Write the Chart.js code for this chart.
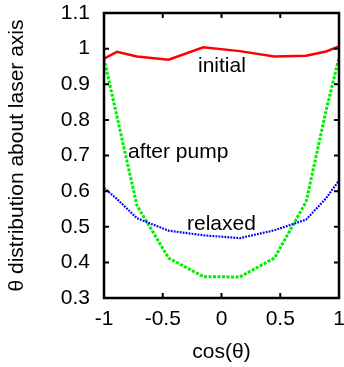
<!DOCTYPE html>
<html>
<head>
<meta charset="utf-8">
<script src="https://cdn.jsdelivr.net/npm/chart.js@4"></script>
<style>
  body { margin: 0; background: #fff; }
  canvas { display: block; }
</style>
</head>
<body>
<canvas id="chart" width="344" height="367"></canvas>
<script>
// Data
const cosTheta = [-1, -0.89, -0.72, -0.45, -0.155, 0.155, 0.45, 0.72, 0.89, 1];
const initial = [0.972, 0.991, 0.978, 0.969, 1.004, 0.993, 0.978, 0.980, 0.992, 1.006];
const afterPump = [0.972, 0.81, 0.56, 0.412, 0.360, 0.359, 0.412, 0.57, 0.826, 0.975];
const relaxed = [0.609, 0.578, 0.524, 0.489, 0.476, 0.468, 0.49, 0.52, 0.58, 0.63];

const xTicks = [-1, -0.5, 0, 0.5, 1];
const xTickLabels = ['-1', '-0.5', '0', '0.5', '1'];
const yTicks = [0.3, 0.4, 0.5, 0.6, 0.7, 0.8, 0.9, 1, 1.1];
const yTickLabels = ['0.3', '0.4', '0.5', '0.6', '0.7', '0.8', '0.9', '1', '1.1'];

// curve labels, placed in data coordinates (left edge, baseline)
const curveLabels = [
    { text: 'initial', x: -0.2, y: 0.933 },
    { text: 'after pump', x: -0.796, y: 0.693 },
    { text: 'relaxed', x: -0.294, y: 0.49 }
];

const FONT = "'Liberation Sans', Arial, Helvetica, sans-serif";
Chart.defaults.font.family = FONT;
Chart.defaults.font.size = 21;
Chart.defaults.color = '#000';

const pts = (ys) => cosTheta.map((x, i) => ({ x: x, y: ys[i] }));

// no extra room for half labels at the axis ends
const noPad = (s) => { s.paddingLeft = 0; s.paddingRight = 0; s.paddingTop = 0; s.paddingBottom = 0; };

// frame, inside tick marks and curve labels
const framePlugin = {
    id: 'frame',
    afterDatasetsDraw(chart) {
        const { ctx, chartArea: a, scales: { x, y } } = chart;
        ctx.save();
        ctx.strokeStyle = '#000';
        ctx.lineWidth = 2;
        ctx.beginPath();
        xTicks.forEach(v => {
            const px = x.getPixelForValue(v);
            ctx.moveTo(px, a.bottom); ctx.lineTo(px, a.bottom - 5);
            ctx.moveTo(px, a.top); ctx.lineTo(px, a.top + 5);
        });
        yTicks.forEach(v => {
            const py = y.getPixelForValue(v);
            ctx.moveTo(a.left, py); ctx.lineTo(a.left + 5, py);
            ctx.moveTo(a.right, py); ctx.lineTo(a.right - 5, py);
        });
        ctx.stroke();
        ctx.lineWidth = 2.5;
        ctx.strokeRect(a.left, a.top, a.right - a.left, a.bottom - a.top);

        ctx.fillStyle = '#000';
        ctx.font = '21px ' + FONT;
        ctx.textAlign = 'left';
        ctx.textBaseline = 'alphabetic';
        curveLabels.forEach(l => {
            ctx.fillText(l.text, x.getPixelForValue(l.x), y.getPixelForValue(l.y));
        });
        ctx.restore();
    }
};

new Chart(document.getElementById('chart'), {
    type: 'scatter',
    data: {
        datasets: [
            { label: 'initial', data: pts(initial), showLine: true, borderColor: '#ff0000', borderWidth: 2.5, pointRadius: 0 },
            { label: 'relaxed', data: pts(relaxed), showLine: true, borderColor: '#0000ff', borderWidth: 2.2, borderDash: [1.8, 1.2], pointRadius: 0 },
            { label: 'after pump', data: pts(afterPump), showLine: true, borderColor: '#00ee00', borderWidth: 3, borderDash: [3, 1.5], pointRadius: 0 }
        ]
    },
    options: {
        responsive: false,
        animation: false,
        layout: { padding: { top: 13, right: 5, left: 0, bottom: 0 } },
        plugins: { legend: { display: false }, tooltip: { enabled: false } },
        scales: {
            x: {
                type: 'linear', min: -1, max: 1,
                afterBuildTicks: s => { s.ticks = xTicks.map(v => ({ value: v })); },
                afterFit: s => { s.height = 69; noPad(s); },
                ticks: { padding: 9, maxRotation: 0, callback: (v, i) => xTickLabels[i] },
                grid: { display: false, drawTicks: false },
                border: { display: false },
                title: { display: true, text: 'cos(θ)', padding: { top: 0, bottom: 2 } }
            },
            y: {
                type: 'linear', min: 0.3, max: 1.1,
                afterBuildTicks: s => { s.ticks = yTicks.map(v => ({ value: v })); },
                afterFit: s => { s.width = 104; noPad(s); },
                ticks: { padding: 14, callback: (v, i) => yTickLabels[i] },
                grid: { display: false, drawTicks: false },
                border: { display: false },
                title: { display: true, text: 'θ distribution about laser axis', padding: { top: 5, bottom: 0 } }
            }
        }
    },
    plugins: [framePlugin]
});
</script>
</body>
</html>
